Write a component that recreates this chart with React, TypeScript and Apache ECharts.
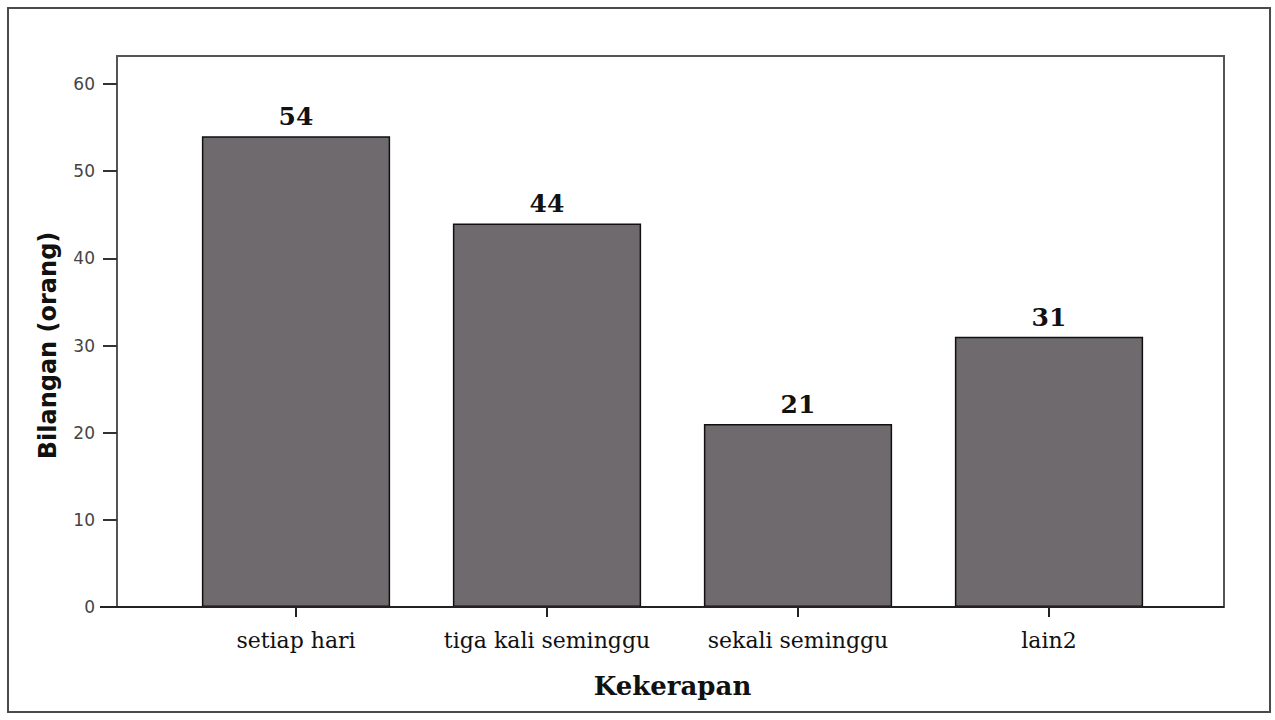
import React, { useEffect, useRef } from "react";
import * as echarts from "echarts";

const categories = ["setiap hari", "tiga kali seminggu", "sekali seminggu", "lain2"];
const counts = [54, 44, 21, 31];
const yTicks = [0, 10, 20, 30, 40, 50, 60];

export default function App() {
  const ref = useRef<HTMLDivElement>(null);
  useEffect(() => {
    if (!ref.current) return;
    const chart = echarts.init(ref.current, null, { renderer: "svg" });
    chart.setOption({
      animation: false,
      backgroundColor: "#ffffff",
      grid: { left: 170.5, right: 100.5, top: 84, bottom: 113 },
      graphic: [
        {
          type: "rect",
          shape: { x: 8, y: 8, width: 1262, height: 704 },
          style: { fill: "none", stroke: "#4a4a4a", lineWidth: 2 },
          z: 0,
        },
        {
          type: "rect",
          shape: { x: 117, y: 56, width: 1107, height: 551 },
          style: { fill: "none", stroke: "#555555", lineWidth: 2 },
          z: 0,
        },
        {
          type: "line",
          shape: { x1: 100, y1: 607, x2: 1224, y2: 607 },
          style: { stroke: "#222222", lineWidth: 2 },
          z: 10,
        },
      ],
      xAxis: {
        type: "category",
        data: categories,
        axisLine: { show: false },
        axisTick: { show: true, interval: 0, alignWithLabel: true, length: 10, lineStyle: { color: "#222", width: 2 } },
        axisLabel: { interval: 0, hideOverlap: false, color: "#111", fontFamily: "DejaVu Serif", fontSize: 22, margin: 22 },
        name: "Kekerapan",
        nameLocation: "middle",
        nameGap: 66,
        nameTextStyle: { color: "#111", fontFamily: "DejaVu Serif", fontSize: 26, fontWeight: "bold" },
      },
      yAxis: {
        type: "value",
        min: yTicks[0],
        max: yTicks[yTicks.length - 1],
        interval: 10,
        offset: 53.5,
        splitLine: { show: false },
        axisLine: { show: false },
        axisTick: { show: true, length: 14, lineStyle: { color: "#333", width: 2 } },
        axisLabel: { color: "#444", fontFamily: "DejaVu Sans", fontSize: 17, margin: 22 },
        name: "Bilangan (orang)",
        nameLocation: "middle",
        nameGap: 57,
        nameTextStyle: { color: "#111", fontFamily: "DejaVu Sans", fontSize: 24, fontWeight: "bold" },
      },
      series: [
        {
          type: "bar",
          data: counts,
          barWidth: "75%",
          itemStyle: { color: "#6e6a6e", borderColor: "#111", borderWidth: 1.5 },
          label: {
            show: true,
            position: "top",
            distance: 7,
            color: "#111",
            fontFamily: "DejaVu Serif",
            fontSize: 25,
            fontWeight: "bold",
          },
        },
      ],
    });
    return () => chart.dispose();
  }, []);
  return <div ref={ref} style={{ position: "fixed", left: 0, top: 0, width: 1275, height: 720 }} />;
}
